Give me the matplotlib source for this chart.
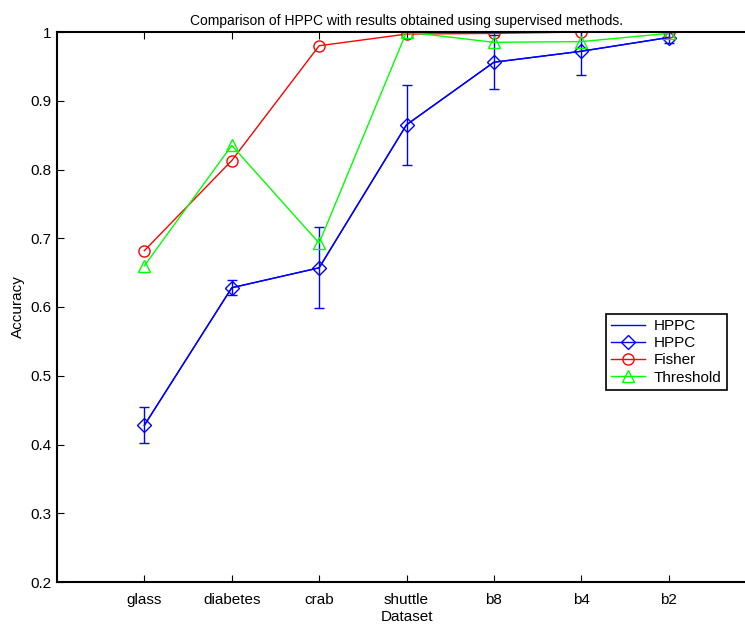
import numpy as np
import matplotlib.pyplot as plt
from matplotlib.lines import Line2D

plt.rcParams['font.family'] = ['Liberation Sans', 'DejaVu Sans']

datasets = ['glass', 'diabetes', 'crab', 'shuttle', 'b8', 'b4', 'b2']
hppc = [0.428, 0.628, 0.657, 0.865, 0.956, 0.972, 0.992]
hppc_err = [0.026, 0.011, 0.059, 0.058, 0.039, 0.035, 0.008]
fisher = [0.682, 0.813, 0.980, 0.997, 0.998, 1.0, 1.0]
threshold = [0.660, 0.835, 0.693, 1.0, 0.985, 0.986, 0.998]

x = np.arange(1, len(datasets) + 1)

fig = plt.figure(figsize=(7.45, 6.25), dpi=100)
ax = fig.add_axes([57 / 745, 43 / 625, 699 / 745, 550 / 625])

ax.errorbar(x, hppc, yerr=hppc_err, color='blue', lw=1, elinewidth=1,
            capsize=3.6, capthick=1)
ax.plot(x, hppc, color='blue', lw=1, marker='D', ms=7, mfc='none', mew=1)
ax.plot(x, fisher, color='red', lw=1, marker='o', ms=8, mfc='none', mew=1)
ax.plot(x, threshold, color='#00ff00', lw=1, marker='^', ms=8, mfc='none', mew=1)

ax.set_xlim(0, 8)
ax.set_ylim(0.2, 1.0)
ax.set_xticks(x)
ax.set_xticklabels(datasets)
ax.set_yticks(np.arange(0.2, 1.01, 0.1))
ax.set_yticklabels(['0.2', '0.3', '0.4', '0.5', '0.6', '0.7', '0.8', '0.9', '1'])
ax.tick_params(direction='in', top=True, length=5, labelsize=11)
ax.tick_params(axis='x', pad=8)
ax.tick_params(axis='y', pad=4)
for s in ax.spines.values():
    s.set_linewidth(1.5)

ax.set_xlabel('Dataset', fontsize=11, labelpad=2)
ax.set_ylabel('Accuracy', fontsize=11)
ax.yaxis.set_label_coords((25 - 57) / 699, 0.5)
ax.set_title('Comparison of HPPC with results obtained using supervised methods.',
             fontsize=10, pad=5)

handles = [
    Line2D([], [], color='blue', lw=1),
    Line2D([], [], color='blue', lw=1, marker='D', ms=7, mfc='none'),
    Line2D([], [], color='red', lw=1, marker='o', ms=8, mfc='none'),
    Line2D([], [], color='#00ff00', lw=1, marker='^', ms=8, mfc='none'),
]
leg = ax.legend(handles, ['HPPC', 'HPPC', 'Fisher', 'Threshold'],
                loc='upper left',
                bbox_to_anchor=((606 - 57) / 699, (582 - 314) / 550),
                fontsize=11, fancybox=False, framealpha=1, edgecolor='black',
                borderpad=0.35, labelspacing=0.2, handlelength=2.2,
                handletextpad=0.6, borderaxespad=0)
leg.get_frame().set_linewidth(1.2)

plt.savefig('out.png', dpi=100)
